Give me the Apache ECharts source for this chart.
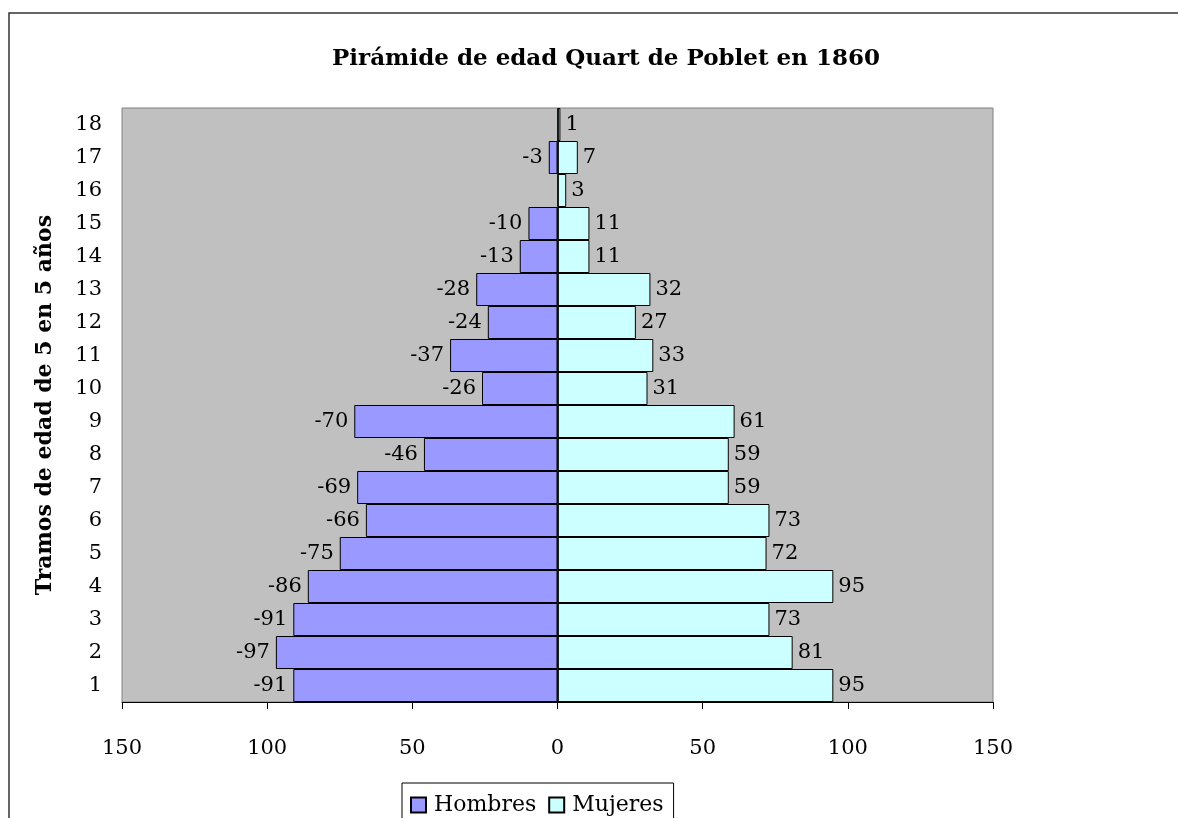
<!DOCTYPE html>
<html>
<head>
<meta charset="utf-8">
<script src="https://cdn.jsdelivr.net/npm/echarts@6/dist/echarts.min.js"></script>
<style>
  html, body { margin: 0; padding: 0; background: #fff; }
  #main { width: 1178px; height: 818px; }
</style>
</head>
<body>
<div id="main"></div>
<script>
    // tramos de edad 1..18 (de abajo arriba)
    var tramos = ['1', '2', '3', '4', '5', '6', '7', '8', '9', '10', '11', '12', '13', '14', '15', '16', '17', '18'];
    var hombres = [-91, -97, -91, -86, -75, -66, -69, -46, -70, -26, -37, -24, -28, -13, -10, null, -3, null];
    var mujeres = [95, 81, 73, 95, 72, 73, 59, 59, 61, 31, 33, 27, 32, 11, 11, 3, 7, 1];

    var fuente = 'DejaVu Serif';

    (function (charts) {
        charts.setOption({
            animation: false,
            textStyle: {fontFamily: fuente, color: '#000'},
            title: {
                text: 'Pirámide de edad Quart de Poblet en 1860',
                left: 601, top: 43, textAlign: 'center',
                textStyle: {fontFamily: fuente, fontSize: 23, fontWeight: 'bold', color: '#000'}
            },
            graphic: [{
                type: 'rect', z: -1,
                shape: {x: 9, y: 13, width: 1300, height: 900},
                style: {fill: 'none', stroke: '#333', lineWidth: 1.5}
            }],
            legend: {
                data: ['Hombres', 'Mujeres'],
                left: 402, top: 783,
                padding: [11, 10, 30, 8],
                itemGap: 12,
                itemWidth: 15, itemHeight: 15,
                icon: 'rect',
                borderColor: '#000', borderWidth: 1,
                textStyle: {fontFamily: fuente, fontSize: 22, color: '#000', padding: [0, 0, 0, 3]}
            },
            grid: {
                left: 122, right: 185, top: 108, bottom: 116,
                show: true, backgroundColor: '#C0C0C0', borderColor: '#808080', borderWidth: 1
            },
            xAxis: {
                type: 'value', min: -150, max: 150, interval: 50,
                axisLine: {show: true, onZero: false, lineStyle: {color: '#000', width: 1}},
                axisTick: {show: true, length: 7, lineStyle: {color: '#000'}},
                splitLine: {show: false},
                axisLabel: {
                    fontFamily: fuente, fontSize: 21, color: '#000', margin: 36,
                    formatter: function (v) { return Math.abs(v); }
                }
            },
            yAxis: {
                type: 'category', data: tramos,
                name: 'Tramos de edad de 5 en 5 años',
                nameLocation: 'middle', nameGap: 66, nameRotate: 90,
                nameTextStyle: {fontFamily: fuente, fontSize: 22, fontWeight: 'bold', color: '#000'},
                axisLine: {show: false},
                axisTick: {show: false},
                axisLabel: {fontFamily: fuente, fontSize: 21, color: '#000', margin: 20}
            },
            series: [
                {
                    name: 'Hombres', type: 'bar', stack: 'total',
                    barCategoryGap: '0%',
                    data: hombres,
                    itemStyle: {color: '#9999FF', borderColor: '#000', borderWidth: 1},
                    label: {show: true, position: 'left', distance: 6, fontFamily: fuente, fontSize: 21, color: '#000'},
                    markLine: {
                        silent: true, symbol: 'none', label: {show: false},
                        lineStyle: {color: '#000', type: 'solid', width: 1.5},
                        data: [{xAxis: 0}]
                    }
                },
                {
                    name: 'Mujeres', type: 'bar', stack: 'total',
                    barCategoryGap: '0%',
                    data: mujeres,
                    itemStyle: {color: '#CCFFFF', borderColor: '#000', borderWidth: 1},
                    label: {show: true, position: 'right', distance: 5, fontFamily: fuente, fontSize: 21, color: '#000'}
                }
            ]
        });
    })(echarts.init(document.getElementById('main')));
</script>
</body>
</html>
